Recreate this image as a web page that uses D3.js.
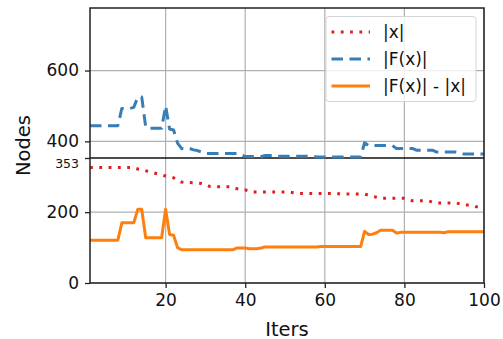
<!DOCTYPE html>
<html>
<head>
<meta charset="utf-8">
<script src="https://cdn.jsdelivr.net/npm/d3@7"></script>
<style>
  body { margin: 0; background: #fff; }
  svg { display: block; font-family: 'DejaVu Sans', sans-serif; }
</style>
</head>
<body>
<div id="chart"></div>
<script>
// values, one per iteration 1..100
const iters = d3.range(1, 101)

const xSize = [
    326, 326, 326, 326, 326, 326, 326, 326, 326, 326,
    326, 326, 322, 320, 317, 314, 311, 308, 305, 302,
    299, 297, 290, 285, 284, 284, 283, 282, 281, 278,
    273, 272, 272, 272, 272, 272, 268, 266, 264, 263,
    260, 257, 257, 257, 257, 257, 257, 257, 257, 257,
    257, 255, 253, 253, 253, 253, 253, 253, 253, 253,
    253, 253, 253, 251, 251, 251, 251, 251, 251, 251,
    248, 245, 242, 239, 239, 239, 239, 239, 239, 239,
    236, 232, 232, 232, 232, 232, 229, 226, 226, 226,
    226, 226, 226, 223, 220, 220, 218, 215, 215, 215
]

const fxSize = [
    444, 444, 444, 444, 444, 444, 444, 444, 493, 493,
    493, 496, 525, 525, 440, 437, 437, 437, 437, 500,
    435, 432, 395, 380, 378, 380, 376, 374, 370, 366,
    366, 366, 366, 366, 366, 366, 366, 366, 362, 357,
    357, 357, 357, 357, 360, 360, 360, 358, 358, 358,
    358, 358, 358, 358, 358, 358, 358, 356, 356, 356,
    356, 356, 356, 356, 356, 356, 356, 356, 356, 396,
    388, 388, 388, 388, 388, 388, 388, 380, 380, 380,
    380, 380, 375, 375, 375, 375, 375, 370, 370, 370,
    370, 370, 370, 368, 364, 364, 364, 364, 364, 364
]

const diffSize = [
    121, 121, 121, 121, 121, 121, 121, 121, 170, 170,
    170, 170, 208, 208, 128, 128, 128, 128, 128, 208,
    137, 135, 100, 94, 94, 94, 94, 94, 94, 94,
    94, 94, 94, 94, 94, 94, 94, 99, 99, 99,
    97, 97, 97, 99, 102, 102, 102, 102, 102, 102,
    102, 102, 102, 102, 102, 102, 102, 102, 103, 103,
    103, 103, 103, 103, 103, 103, 103, 103, 103, 146,
    137, 138, 142, 149, 149, 149, 149, 141, 143, 143,
    143, 143, 143, 143, 143, 143, 143, 143, 143, 142,
    145, 145, 145, 145, 145, 145, 145, 145, 145, 145
]

const refLevel = 353
const xTicks = [20, 40, 60, 80, 100]
const yTicks = [0, 200, 400, 600]

const seriesNames = ['|x|', '|F(x)|', '|F(x)| - |x|']
const seriesColors = ['#e41a1c', '#377eb8', '#ff7f0e']
const seriesDash = ['2.8,6.5', '11.5,6.5', null]

const width = 503, height = 339
const padding = { top: 8, bottom: 56, left: 90, right: 19 }
const innerWidth = width - padding.left - padding.right
const innerHeight = height - padding.top - padding.bottom

const xScale = d3.scaleLinear().domain([1, 100]).range([0, innerWidth])
const yScale = d3.scaleLinear().domain([0, refLevel * 2.2]).range([innerHeight, 0])

const svg = d3.select('#chart').append('svg')
              .attr('width', width)
              .attr('height', height)
              .style('background', '#fff')

const graph = svg.append('g')
                 .attr('transform', `translate(${padding.left}, ${padding.top})`)

// grid
graph.append('g').selectAll('line').data(xTicks).join('line')
     .attr('x1', d => xScale(d)).attr('x2', d => xScale(d))
     .attr('y1', 0).attr('y2', innerHeight)
     .attr('stroke', '#b0b0b0').attr('stroke-width', 1.2)
graph.append('g').selectAll('line').data(yTicks).join('line')
     .attr('x1', 0).attr('x2', innerWidth)
     .attr('y1', d => yScale(d)).attr('y2', d => yScale(d))
     .attr('stroke', '#b0b0b0').attr('stroke-width', 1.2)

// reference level
graph.append('line')
     .attr('x1', 0).attr('x2', innerWidth)
     .attr('y1', yScale(refLevel)).attr('y2', yScale(refLevel))
     .attr('stroke', '#111').attr('stroke-width', 1.5)

// series
const clip = svg.append('clipPath').attr('id', 'clip')
clip.append('rect').attr('width', innerWidth).attr('height', innerHeight)

const line = d3.line()
               .x((d, i) => xScale(iters[i]))
               .y(d => yScale(d))

const allSeries = [xSize, fxSize, diffSize]
allSeries.forEach((s, k) => {
    graph.append('path')
         .datum(s)
         .attr('d', line)
         .attr('clip-path', 'url(#clip)')
         .style('fill', 'none')
         .style('stroke', seriesColors[k])
         .style('stroke-width', 3)
         .style('stroke-linejoin', 'round')
         .style('stroke-dasharray', seriesDash[k])
})

// frame
graph.append('rect')
     .attr('width', innerWidth).attr('height', innerHeight)
     .attr('fill', 'none').attr('stroke', '#222').attr('stroke-width', 1.5)

// axes
const xAxis = graph.append('g')
     .attr('transform', `translate(0, ${innerHeight})`)
     .call(d3.axisBottom(xScale).tickValues(xTicks).tickSize(5).tickPadding(6))
const yAxis = graph.append('g')
     .call(d3.axisLeft(yScale).tickValues(yTicks.concat([refLevel])).tickSize(5).tickPadding(6))
graph.selectAll('.domain').remove()
graph.selectAll('.tick line').attr('stroke', '#222').attr('stroke-width', 1.3)
graph.selectAll('.tick text')
     .style('font-size', '17px')
     .style('font-family', 'DejaVu Sans, sans-serif')
     .attr('fill', '#111')
yAxis.selectAll('.tick text')
     .filter(d => d === refLevel)
     .style('font-size', '12.5px')
     .attr('dy', '0.75em')

// axis labels
svg.append('text')
   .text('Iters')
   .attr('text-anchor', 'middle')
   .attr('x', padding.left + innerWidth / 2)
   .attr('y', 336)
   .style('font-size', '19.5px')
   .attr('fill', '#111')

svg.append('text')
   .text('Nodes')
   .attr('text-anchor', 'middle')
   .attr('transform', `translate(30, ${padding.top + innerHeight / 2}) rotate(-90)`)
   .style('font-size', '19.5px')
   .attr('fill', '#111')

// legend
const legend = svg.append('g').attr('transform', 'translate(326, 16.5)')
legend.append('rect')
      .attr('width', 150).attr('height', 85)
      .attr('rx', 3)
      .attr('fill', 'rgba(255,255,255,0.8)')
      .attr('stroke', '#d5d5d5')
seriesNames.forEach((name, k) => {
    const y = 15.5 + k * 27
    legend.append('line')
          .attr('x1', 5.5).attr('x2', 44).attr('y1', y).attr('y2', y)
          .style('stroke', seriesColors[k])
          .style('stroke-width', 3)
          .style('stroke-dasharray', seriesDash[k])
    legend.append('text')
          .text(name)
          .attr('x', 57).attr('y', y)
          .attr('dy', '0.35em')
          .style('font-size', '17px')
          .attr('fill', '#111')
})
</script>
</body>
</html>
